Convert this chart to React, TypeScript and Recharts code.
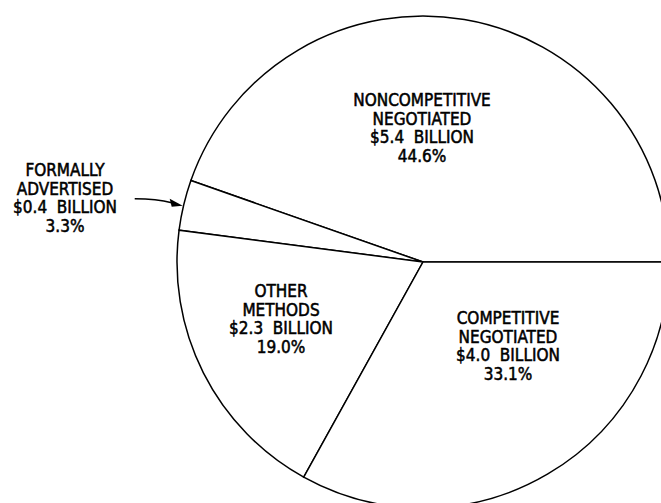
import { Pie, PieChart } from "recharts";

// contract awards by method, billions of dollars
const methodLines = [
  ["NONCOMPETITIVE", "NEGOTIATED"],
  ["FORMALLY", "ADVERTISED"],
  ["OTHER", "METHODS"],
  ["COMPETITIVE", "NEGOTIATED"],
];
const billions = [5.4, 0.4, 2.3, 4.0];

const data = billions.map((v, i) => ({ name: methodLines[i].join(" "), value: v }));

// label block centre, offset from the pie centre (px)
const labelOffsets = [
  { dx: -1, dy: -134 },
  { dx: -358, dy: -64 },
  { dx: -142, dy: 57 },
  { dx: 85, dy: 84 },
];
const LINE_H = 18.9;
const FONT = '"DejaVu Sans Condensed", "Liberation Sans Narrow", "Arial Narrow", sans-serif';
const RAD = Math.PI / 180;

const renderLabel = (props: any) => {
  const { cx, cy, midAngle, outerRadius, index, value, percent } = props;
  const off = labelOffsets[index];
  const x = cx + off.dx;
  const yc = cy + off.dy;
  const lines = [
    ...methodLines[index],
    `$${value.toFixed(1)}  BILLION`,
    `${(percent * 100).toFixed(1)}%`,
  ];
  let arrow = null;
  if (index === 1) {
    const tx = cx + (outerRadius + 1) * Math.cos(-midAngle * RAD);
    const ty = cy + (outerRadius + 1) * Math.sin(-midAngle * RAD);
    arrow = (
      <g>
        <path
          d={`M ${tx - 48} ${ty - 6} Q ${tx - 26} ${ty - 6} ${tx - 11} ${ty - 2}`}
          fill="none"
          stroke="#000"
          strokeWidth={1.6}
        />
        <polygon
          points={`${tx},${ty + 1} ${tx - 13},${ty - 6} ${tx - 11},${ty + 2}`}
          fill="#000"
        />
      </g>
    );
  }
  const y0 = yc - ((lines.length - 1) / 2) * LINE_H;
  return (
    <g key={`lbl-${index}`}>
      {arrow}
      <text
        x={x}
        y={y0}
        textAnchor="middle"
        dominantBaseline="central"
        fontFamily={FONT}
        fontSize={17}
        fill="#000"
        stroke="#000"
        strokeWidth={0.5}
        style={{ whiteSpace: "pre" }}
      >
        {lines.map((t, i) => (
          <tspan key={i} x={x} dy={i === 0 ? 0 : LINE_H}>
            {t}
          </tspan>
        ))}
      </text>
    </g>
  );
};

export default function App() {
  return (
    <div style={{ position: "absolute", left: 0, top: 0, width: 661, height: 503, background: "#fff" }}>
      <PieChart width={661} height={503}>
        <Pie
          data={data}
          dataKey="value"
          nameKey="name"
          cx={418}
          cy={257}
          outerRadius={246}
          startAngle={0}
          endAngle={360}
          fill="#fff"
          stroke="#000"
          strokeWidth={1.5}
          label={renderLabel}
          labelLine={false}
          isAnimationActive={false}
        />
      </PieChart>
    </div>
  );
}
